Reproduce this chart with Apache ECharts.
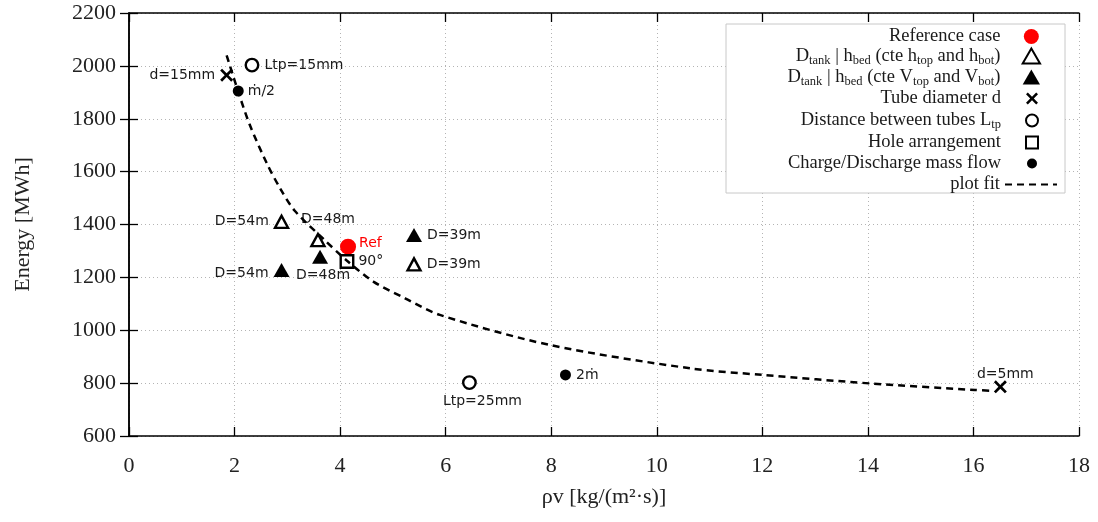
<!DOCTYPE html>
<html>
<head>
<meta charset="utf-8">
<script src="https://cdn.jsdelivr.net/npm/echarts@6/dist/echarts.min.js"></script>
<style>
  html, body { margin: 0; padding: 0; background: #fff; }
  #chart { width: 1098px; height: 522px; }
</style>
</head>
<body>
<div id="chart"></div>
<script>
// Stored energy of the packed-bed tank designs against mass flux (rho*v)

// Reference design
const refX = [4.15];
const refY = [1316];
const refLabels = ['Ref'];

// Tank diameter / bed height, constant top and bottom heights
const tankHX = [2.89, 3.58, 5.40];
const tankHY = [1410, 1341, 1249];
const tankHLabels = ['D=54m', 'D=48m', 'D=39m'];

// Tank diameter / bed height, constant top and bottom volumes
const tankVX = [2.89, 3.62, 5.40];
const tankVY = [1228, 1278, 1360];
const tankVLabels = ['D=54m', 'D=48m', 'D=39m'];

// Tube diameter
const tubeX = [1.85, 16.51];
const tubeY = [1965, 786];
const tubeLabels = ['d=15mm', 'd=5mm'];

// Distance between tubes
const pitchX = [2.33, 6.45];
const pitchY = [2003, 802];
const pitchLabels = ['Ltp=15mm', 'Ltp=25mm'];

// Hole arrangement
const holeX = [4.13];
const holeY = [1260];
const holeLabels = ['90°'];

// Charge / discharge mass flow
const flowX = [2.07, 8.27];
const flowY = [1905, 831];
const flowLabels = ['ṁ/2', '2ṁ'];

// Fitted trend curve
const fitX = [1.85, 2.07, 2.29, 2.61, 2.86, 3.14, 3.68, 4.12, 4.63, 5.23, 5.89, 7.98, 10.63, 12.01, 14.03, 16.03, 16.35];
const fitY = [2040, 1902, 1776, 1632, 1538, 1452, 1346, 1265, 1184, 1121, 1058, 944, 856, 831, 799, 774, 771];

// Axis ticks
const xTicks = [0, 2, 4, 6, 8, 10, 12, 14, 16, 18];
const yTicks = [600, 800, 1000, 1200, 1400, 1600, 1800, 2000, 2200];

// Series names and their legend texts
const names = [
  'Reference case',
  'Dtank | hbed (cte htop and hbot)',
  'Dtank | hbed (cte Vtop and Vbot)',
  'Tube diameter d',
  'Distance between tubes Ltp',
  'Hole arrangement',
  'Charge/Discharge mass flow',
  'plot fit'
];
const legendText = {
  'Reference case': '{n|Reference case}',
  'Dtank | hbed (cte htop and hbot)': '{n|D}{s|tank}{n| | h}{s|bed}{n| (cte h}{s|top}{n| and h}{s|bot}{n|)}',
  'Dtank | hbed (cte Vtop and Vbot)': '{n|D}{s|tank}{n| | h}{s|bed}{n| (cte V}{s|top}{n| and V}{s|bot}{n|)}',
  'Tube diameter d': '{n|Tube diameter d}',
  'Distance between tubes Ltp': '{n|Distance between tubes L}{s|tp}',
  'Hole arrangement': '{n|Hole arrangement}',
  'Charge/Discharge mass flow': '{n|Charge/Discharge mass flow}',
  'plot fit': '{n|plot fit}'
};

const SERIF = 'Liberation Serif';
const SANS = 'DejaVu Sans';
const INK = '#1a1a1a';

// Marker outlines (paths keep their proportions inside the legend)
const crossPath = 'path://M0,1.5L1.5,0L5,3.5L8.5,0L10,1.5L6.5,5L10,8.5L8.5,10L5,6.5L1.5,10L0,8.5L3.5,5Z';
const trianglePath = 'path://M0,8.66L5,0L10,8.66Z';
const squarePath = 'path://M0,0L10,0L10,10L0,10Z';
const openStyle = { color: '#fff', borderColor: '#000', borderWidth: 2.4, opacity: 1 };
const solidStyle = { color: '#000', opacity: 1 };

function scatter(name, xs, ys, labels, places, symbol, size, itemStyle) {
  return {
    type: 'scatter',
    name: name,
    symbol: symbol,
    symbolSize: size,
    itemStyle: itemStyle,
    emphasis: { disabled: true },
    label: { show: true, fontFamily: SANS, fontSize: 14, color: INK },
    data: xs.map(function (x, i) {
      return {
        value: [x, ys[i]],
        label: Object.assign({ show: true, formatter: labels[i] }, places[i] || {})
      };
    })
  };
}

// One legend column block; icons are centred on the same vertical line
function legendBlock(items, top, right, iconH, gap) {
  return {
    data: items,
    orient: 'vertical',
    align: 'right',
    right: right,
    top: top,
    itemWidth: 52,
    itemHeight: iconH,
    itemGap: gap,
    padding: 0,
    selectedMode: false,
    symbolKeepAspect: true,
    formatter: function (n) { return legendText[n]; },
    textStyle: {
      color: INK,
      fontFamily: SERIF,
      fontSize: 18.5,
      rich: {
        n: { fontFamily: SERIF, fontSize: 18.5, lineHeight: 21, color: INK },
        s: { fontFamily: SERIF, fontSize: 12.5, lineHeight: 12, padding: [9, 0, 0, 0], color: INK }
      }
    }
  };
}

function baseAxis(extra) {
  return Object.assign({
    type: 'value',
    axisLine: { show: true, lineStyle: { color: '#000', width: 1.5 } },
    axisTick: { show: true, inside: true, length: 9, lineStyle: { color: '#000', width: 1.3 } },
    splitLine: { show: false },
    axisLabel: { show: false }
  }, extra);
}

const plain = function (v) { return String(v); };

const chart = echarts.init(document.getElementById('chart'), null, { renderer: 'canvas' });

chart.setOption({
  animation: false,
  backgroundColor: '#fff',
  grid: { left: 129, right: 19, top: 13, bottom: 86, containLabel: false },
  xAxis: [
    baseAxis({
      position: 'bottom',
      min: xTicks[0], max: xTicks[xTicks.length - 1], interval: xTicks[1] - xTicks[0],
      splitLine: { show: true, lineStyle: { color: '#b4b4b4', width: 1, type: [1, 3] } },
      axisLabel: { show: true, fontFamily: SERIF, fontSize: 22, color: '#222', margin: 19, formatter: plain },
      name: 'ρv [kg/(m²·s)]',
      nameLocation: 'middle',
      nameGap: 50,
      nameTextStyle: { fontFamily: SERIF, fontSize: 22, color: '#222' }
    }),
    baseAxis({
      position: 'top',
      min: xTicks[0], max: xTicks[xTicks.length - 1], interval: xTicks[1] - xTicks[0]
    })
  ],
  yAxis: [
    baseAxis({
      position: 'left',
      min: yTicks[0], max: yTicks[yTicks.length - 1], interval: yTicks[1] - yTicks[0],
      splitLine: { show: true, lineStyle: { color: '#b4b4b4', width: 1, type: [1, 3] } },
      axisLabel: { show: true, fontFamily: SERIF, fontSize: 22, color: '#222', margin: 13, formatter: plain },
      name: 'Energy [MWh]',
      nameLocation: 'middle',
      nameGap: 95,
      nameTextStyle: { fontFamily: SERIF, fontSize: 22, color: '#222' }
    }),
    baseAxis({
      position: 'right',
      min: yTicks[0], max: yTicks[yTicks.length - 1], interval: yTicks[1] - yTicks[0]
    })
  ],
  graphic: [{
    type: 'rect',
    z: 1,
    shape: { x: 726, y: 24, width: 339, height: 169 },
    style: { fill: '#fff', stroke: '#c8c8c8', lineWidth: 1 }
  }],
  legend: [
    legendBlock(names.slice(0, 3), 27, 57, 15, -1),
    legendBlock(names.slice(3, 6), 89, 59, 12, 1.5),
    legendBlock(names.slice(6, 7), 154, 61, 10, 0),
    legendBlock(names.slice(7, 8), 175, 40, 12, 0)
  ],
  series: [
    scatter(names[0], refX, refY, refLabels,
      [{ position: 'right', distance: 3, offset: [0, -3], color: '#ff0000' }],
      'circle', 16, { color: '#ff0000', opacity: 1 }),
    scatter(names[1], tankHX, tankHY, tankHLabels,
      [{ position: 'left', distance: 5 },
       { position: 'top', distance: 5, offset: [10, -2] },
       { position: 'right', distance: 5 }],
      trianglePath, [13, 12], openStyle),
    scatter(names[2], tankVX, tankVY, tankVLabels,
      [{ position: 'left', distance: 5, offset: [0, 3] },
       { position: 'bottom', distance: 5, offset: [3, 0] },
       { position: 'right', distance: 5 }],
      trianglePath, [16, 14], solidStyle),
    scatter(names[3], tubeX, tubeY, tubeLabels,
      [{ position: 'left', distance: 5 },
       { position: 'top', distance: 2, offset: [5, 3] }],
      crossPath, 13, solidStyle),
    scatter(names[4], pitchX, pitchY, pitchLabels,
      [{ position: 'right', distance: 5 },
       { position: 'bottom', distance: 5, offset: [13, -1] }],
      'circle', 12.5, openStyle),
    scatter(names[5], holeX, holeY, holeLabels,
      [{ position: 'right', distance: 4 }],
      squarePath, 12.5, openStyle),
    scatter(names[6], flowX, flowY, flowLabels,
      [{ position: 'right', distance: 4 },
       { position: 'right', distance: 5 }],
      'circle', 11, solidStyle),
    {
      type: 'line',
      name: names[7],
      data: fitX.map(function (x, i) { return [x, fitY[i]]; }),
      smooth: 0.3,
      symbol: 'none',
      showSymbol: false,
      emphasis: { disabled: true },
      lineStyle: { color: '#000', width: 2.5, type: [7, 5] },
      itemStyle: { color: '#000', opacity: 0 }
    }
  ]
});
</script>
</body>
</html>
